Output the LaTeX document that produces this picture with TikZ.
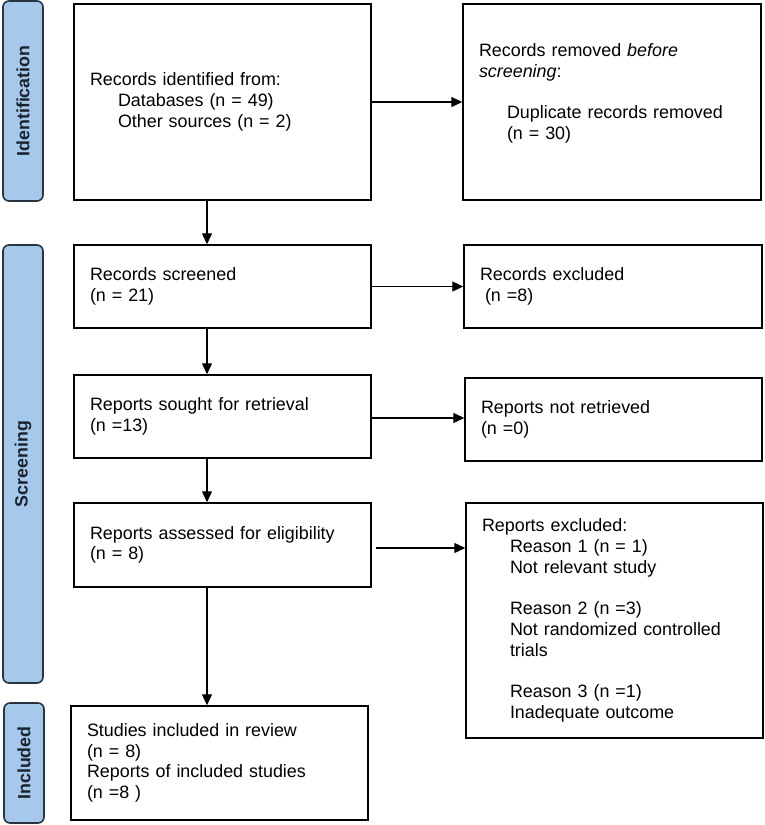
\documentclass[tikz,border=0pt]{standalone}
\usepackage{fontspec}
\setmainfont{Liberation Sans}
\usetikzlibrary{arrows.meta}
\definecolor{barfill}{RGB}{166,200,234}
\definecolor{barline}{RGB}{40,52,66}
\definecolor{bartext}{RGB}{26,36,48}
\tikzset{
  box/.style={draw=black, line width=1.4pt, fill=white, align=left,
    inner xsep=16pt, inner ysep=0pt, font=\fontsize{17.9}{20.7}\selectfont},
  bar/.style={draw=barline, line width=1.6pt, fill=barfill, rounded corners=6pt,
    rotate=90, inner sep=0pt, text=bartext, font=\fontsize{17.8}{20}\selectfont\bfseries},
  arr/.style={line width=1.1pt, -{Triangle[length=11pt,width=10pt]}}
}
\newcommand{\ind}{\hspace*{28pt}}
\begin{document}
\begin{tikzpicture}[x=1pt,y=-1pt]
\useasboundingbox (0,0) rectangle (765,825);
% phase bars
\node[bar, minimum width=200, minimum height=40] (pid) at (23,101) {Identification};
\node[bar, minimum width=438, minimum height=40] (psc) at (23,464) {Screening};
\node[bar, minimum width=120, minimum height=40] (pin) at (24,763) {Included};
% boxes
\node[box, text width=265pt, minimum height=196] (b1) at (222.5,102)
  {Records identified from:\\ \ind Databases (n = 49)\\ \ind Other sources (n = 2)};
\node[box, text width=266pt, minimum height=196] (b2) at (612,102)
  {Records removed \textit{before}\\ \textit{screening}:\\ \mbox{}\\ \ind Duplicate records removed\\ \ind (n = 30)\\ \mbox{}};
\node[box, text width=265pt, minimum height=83] (b3) at (222.5,286.5)
  {Records screened\\ (n = 21)};
\node[box, text width=266pt, minimum height=83] (b4) at (613,286.5)
  {Records excluded\\ \hspace*{5pt}(n =8)};
\node[box, text width=265pt, minimum height=83] (b5) at (222.5,416.5)
  {Reports sought for retrieval\\ (n =13)};
\node[box, text width=265pt, minimum height=83] (b6) at (613.5,419.5)
  {Reports not retrieved\\ (n =0)};
\node[box, text width=265pt, minimum height=84] (b7) at (222.5,545)
  {Reports assessed for eligibility\\ (n = 8)};
\node[box, text width=265pt, minimum height=235] (b8) at (614.5,620.5)
  {Reports excluded:\\ \ind Reason 1 (n = 1)\\ \ind Not relevant study\\ \mbox{}\\
   \ind Reason 2 (n =3)\\ \ind Not randomized controlled\\ \ind trials\\ \mbox{}\\
   \ind Reason 3 (n =1)\\ \ind Inadequate outcome};
\node[box, text width=265pt, minimum height=114] (b9) at (219.5,763)
  {Studies included in review\\ (n = 8)\\ Reports of included studies\\ (n =8 )};
% connectors
\coordinate (ax) at (207,0);
\draw[arr] (b1.south -| ax) -- (b3.north -| ax);
\draw[arr] (b3.south -| ax) -- (b5.north -| ax);
\draw[arr] (b5.south -| ax) -- (b7.north -| ax);
\draw[arr] (b7.south -| ax) -- (b9.north -| ax);
\draw[arr] (b1.east) -- (b2.west |- b1.east);
\draw[arr] (b3.east) -- (b4.west |- b3.east);
\coordinate (y5) at (0,418);
\draw[arr] (b5.east |- y5) -- (b6.west |- y5);
\coordinate (y7) at (0,548);
\draw[arr] ([xshift=4pt]b7.east |- y7) -- (b8.west |- y7);
\end{tikzpicture}
\end{document}
